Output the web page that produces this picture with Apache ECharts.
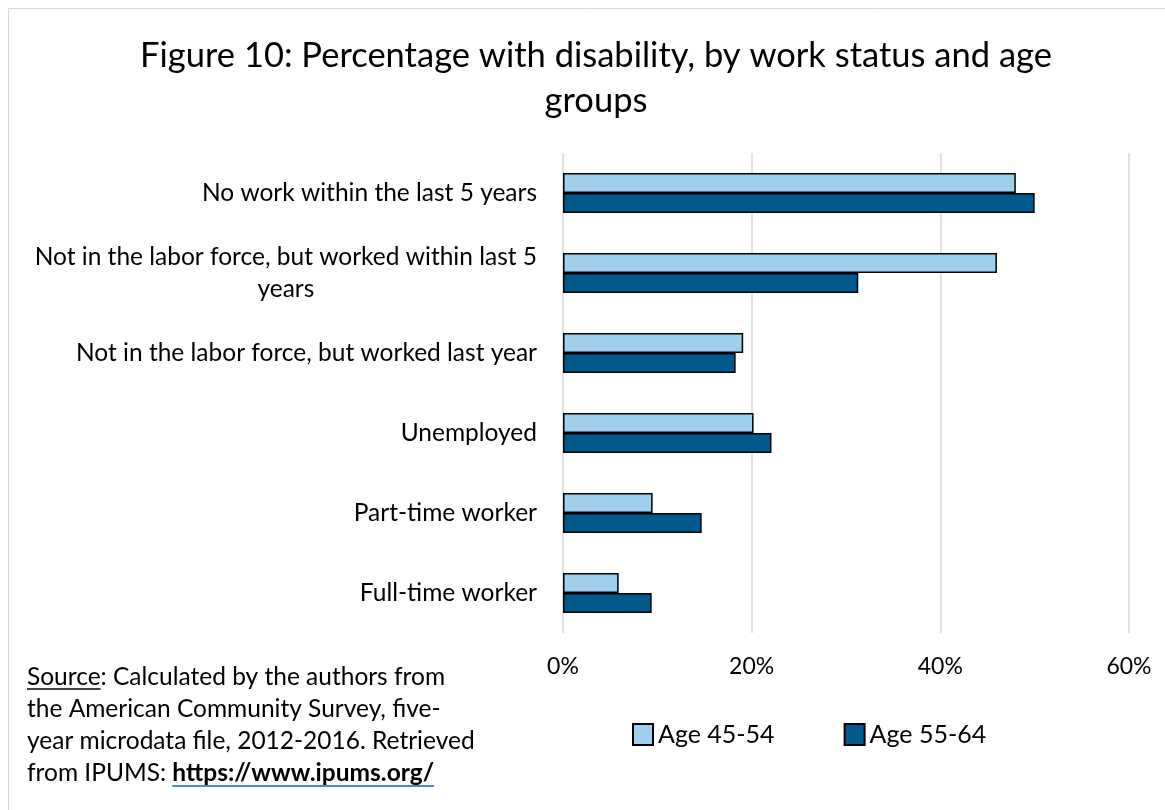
<!DOCTYPE html>
<html>
<head>
<meta charset="utf-8">
<script src="https://cdn.jsdelivr.net/npm/echarts@6/dist/echarts.min.js"></script>
<style>
html,body{margin:0;padding:0;background:#fff;}
#chart{width:1165px;height:810px;}
</style>
</head>
<body>
<div id="chart"></div>
<script>
const categories = [
  'No work within the last 5 years',
  'Not in the labor force, but worked within last 5\nyears',
  'Not in the labor force, but worked last year',
  'Unemployed',
  'Part-time worker',
  'Full-time worker'
];
const seriesNames = ['Age 45-54', 'Age 55-64'];
const age4554 = [48.0, 46.0, 19.1, 20.2, 9.5, 5.9];
const age5564 = [50.0, 31.3, 18.3, 22.1, 14.7, 9.4];
const xTicks = [0, 20, 40, 60];

const FONT = 'Lato';
const LBL = 24.5;
const SRC = 24.5;

// measure text to position the underlines
const ctx = document.createElement('canvas').getContext('2d');
function tw(s, size, weight) {
  ctx.font = (weight || 'normal') + ' ' + size + 'px ' + FONT;
  return ctx.measureText(s).width;
}
const srcLeft = 27, srcTop = 665;
const wSource = tw('Source', SRC);
const wPrefix = tw('from IPUMS: ', SRC);
const wLink = tw('https://www.ipums.org/', SRC, 'bold');

const chart = echarts.init(document.getElementById('chart'));
chart.setOption({
  backgroundColor: '#fff',
  animation: false,
  title: {
    text: 'Figure 10: Percentage with disability, by work status and age\ngroups',
    left: 591, top: 28, textAlign: 'center',
    textStyle: {fontFamily: FONT, fontSize: 34.5, fontWeight: 'normal', color: '#000', lineHeight: 45}
  },
  legend: {
    data: seriesNames,
    left: 627, top: 717, padding: 5,
    icon: 'rect', itemWidth: 20, itemHeight: 21, itemGap: 69,
    textStyle: {fontFamily: FONT, fontSize: 25, color: '#000'}
  },
  grid: {left: 563, right: 36, top: 153, bottom: 177, containLabel: false},
  xAxis: {
    type: 'value', min: xTicks[0], max: xTicks[xTicks.length-1], interval: 20,
    axisLine: {show: false}, axisTick: {show: false},
    splitLine: {lineStyle: {color: '#d9d9d9', width: 1.5}},
    axisLabel: {formatter: '{value}%', fontFamily: FONT, fontSize: 23, color: '#000', margin: 22}
  },
  yAxis: {
    type: 'category', data: categories, inverse: true,
    axisLine: {show: false}, axisTick: {show: false},
    axisLabel: {
      fontFamily: FONT, fontSize: LBL, color: '#000', margin: 26, lineHeight: 32,
      formatter: function (v) {
        if (v.indexOf('\n') >= 0) {
          return v.split('\n').map(s => '{c|' + s + '}').join('\n');
        }
        return v;
      },
      rich: {c: {align: 'center', fontFamily: FONT, fontSize: LBL, color: '#000', lineHeight: 32}}
    }
  },
  series: [
    {
      name: seriesNames[0], type: 'bar', data: age4554,
      barGap: '0%', barCategoryGap: '50%',
      itemStyle: {color: '#9FCFEC', borderColor: '#000', borderWidth: 1.5}
    },
    {
      name: seriesNames[1], type: 'bar', data: age5564,
      barGap: '0%', barCategoryGap: '50%',
      itemStyle: {color: '#005A8B', borderColor: '#000', borderWidth: 1.5}
    }
  ],
  graphic: [
    {type: 'rect', shape: {x: 8.5, y: 8.5, width: 1170, height: 820}, style: {fill: 'none', stroke: '#d9d9d9', lineWidth: 1}, silent: true},
    {
      type: 'text', left: srcLeft, top: srcTop,
      style: {
        text: '{t|Source}{t|: Calculated by the authors from}\n{t|the American Community Survey, five-}\n{t|year microdata file, 2012-2016. Retrieved}\n{t|from IPUMS: }{l|https://www.ipums.org/}',
        rich: {
          t: {fontFamily: FONT, fontSize: SRC, color: '#000', lineHeight: 32},
          l: {fontFamily: FONT, fontSize: SRC, color: '#0563C1', fontWeight: 'bold', lineHeight: 32}
        }
      }
    },
    {type: 'line', shape: {x1: srcLeft, y1: 689, x2: srcLeft + wSource, y2: 689}, style: {stroke: '#000', lineWidth: 1.3}},
    {type: 'line', shape: {x1: srcLeft + wPrefix, y1: 786, x2: srcLeft + wPrefix + wLink, y2: 786}, style: {stroke: '#0563C1', lineWidth: 1.3}}
  ]
});
</script>
</body>
</html>
